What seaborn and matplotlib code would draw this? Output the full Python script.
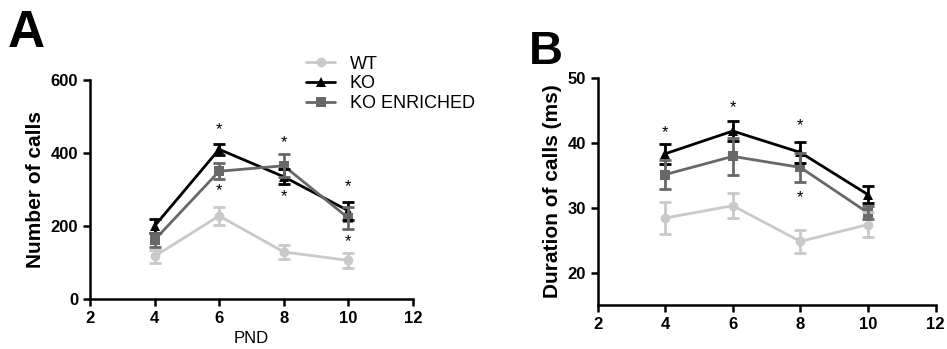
import matplotlib
matplotlib.use("Agg")
import matplotlib.pyplot as plt
import seaborn as sns
import pandas as pd

sns.set_theme(style="ticks")
plt.rcParams['font.family'] = ['Liberation Sans', 'DejaVu Sans']
plt.rcParams['text.color'] = 'black'
plt.rcParams['axes.labelcolor'] = 'black'
plt.rcParams['xtick.color'] = 'black'
plt.rcParams['ytick.color'] = 'black'

pnd = [4, 6, 8, 10]
groups = ["WT", "KO", "KO ENRICHED"]

calls_wt = [117, 228, 129, 106]
calls_wt_err = [18, 25, 20, 20]
calls_ko = [200, 410, 335, 242]
calls_ko_err = [20, 15, 20, 25]
calls_koe = [162, 350, 365, 222]
calls_koe_err = [20, 22, 32, 30]

dur_wt = [28.4, 30.3, 24.8, 27.4]
dur_wt_err = [2.4, 1.9, 1.8, 1.9]
dur_ko = [38.3, 41.8, 38.5, 32.0]
dur_ko_err = [1.5, 1.6, 1.6, 1.3]
dur_koe = [35.1, 37.9, 36.2, 29.2]
dur_koe_err = [2.3, 2.8, 2.2, 1.0]

calls_star_x = [6, 6, 8, 8, 10, 10]
calls_star_y = [465, 297, 428, 281, 308, 158]
dur_star_x = [4, 6, 8, 8]
dur_star_y = [41.5, 45.4, 42.6, 31.5]

colors = {"WT": "#c9c9c9", "KO": "#000000", "KO ENRICHED": "#686868"}
markers = {"WT": "o", "KO": "^", "KO ENRICHED": "s"}

def make_df(vals, errs):
    rows = []
    for g, v, e in zip(groups, vals, errs):
        for x, y, s in zip(pnd, v, e):
            rows.append({"PND": x, "value": y, "err": s, "group": g})
    return pd.DataFrame(rows)

df_calls = make_df([calls_wt, calls_ko, calls_koe], [calls_wt_err, calls_ko_err, calls_koe_err])
df_dur = make_df([dur_wt, dur_ko, dur_koe], [dur_wt_err, dur_ko_err, dur_koe_err])

fig = plt.figure(figsize=(9.47, 3.49), dpi=100)
axA = fig.add_axes([0.095, 0.143, 0.341, 0.628])
axB = fig.add_axes([0.631, 0.126, 0.357, 0.651])

def draw(ax, df, legend):
    sns.lineplot(data=df, x="PND", y="value", hue="group", style="group",
                 palette=colors, markers=markers, dashes=False, ax=ax,
                 linewidth=2, markersize=7, markeredgewidth=0, legend=legend,
                 hue_order=groups, style_order=groups)
    for g in groups:
        sub = df[df.group == g]
        ax.errorbar(sub.PND, sub.value, yerr=sub.err, fmt="none",
                    ecolor=colors[g], elinewidth=2, capsize=4, capthick=2, zorder=3)
    for s in ["top", "right"]:
        ax.spines[s].set_visible(False)
    for s in ["left", "bottom"]:
        ax.spines[s].set_linewidth(1.8)
        ax.spines[s].set_color("black")
    ax.tick_params(width=1.8, length=5, labelsize=12, colors="black")
    ax.set_xlim(2, 12)
    ax.set_xticks([2, 4, 6, 8, 10, 12])

draw(axA, df_calls, True)
axA.set_ylim(0, 600)
axA.set_yticks([0, 200, 400, 600])
for lab in axA.get_xticklabels() + axA.get_yticklabels():
    lab.set_fontweight("bold")
axA.set_ylabel("Number of calls", fontsize=15, fontweight="bold")
axA.set_xlabel("PND", fontsize=12)
for x, y in zip(calls_star_x, calls_star_y):
    axA.text(x, y, "*", ha="center", va="center", fontsize=12)
leg = axA.legend(loc="upper left", bbox_to_anchor=(0.62, 1.185), frameon=False,
                 fontsize=13, handlelength=1.6, handletextpad=0.8, labelspacing=0.15)

draw(axB, df_dur, False)
axB.set_ylim(15, 50)
axB.set_yticks([20, 30, 40, 50])
for lab in axB.get_xticklabels() + axB.get_yticklabels():
    lab.set_fontweight("bold")
axB.set_ylabel("Duration of calls (ms)", fontsize=15, fontweight="bold")
axB.set_xlabel("")
for x, y in zip(dur_star_x, dur_star_y):
    axB.text(x, y, "*", ha="center", va="center", fontsize=12)

fig.text(0.008, 0.975, "A", fontsize=37, fontweight="bold", va="top", ha="left")
fig.text(0.558, 0.915, "B", fontsize=34, fontweight="bold", va="top", ha="left")

fig.savefig("out.png", dpi=100, facecolor="white")
